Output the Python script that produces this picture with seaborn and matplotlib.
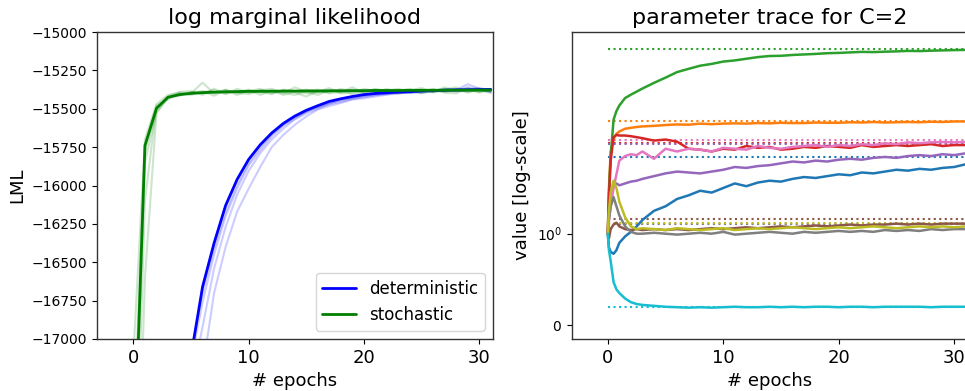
import numpy as np
import pandas as pd
import matplotlib
matplotlib.use("Agg")
import matplotlib.pyplot as plt
import matplotlib.ticker as mticker
import seaborn as sns

# =====================================================
# DATA - left panel (log marginal likelihood per epoch)
# =====================================================

epochs = list(range(32))

det_mean = [-21100, -19710, -18870, -18100, -17495, -17110, -16660, -16375,
            -16130, -15960, -15830, -15735, -15658, -15596, -15548, -15510,
            -15480, -15452, -15435, -15420, -15408, -15400, -15395, -15391,
            -15388, -15384, -15381, -15379, -15377, -15376, -15375, -15374]

det_run_a = [-21600, -20100, -19100, -18330, -17650, -17140, -16760, -16450,
             -16200, -16020, -15870, -15770, -15680, -15612, -15565, -15520,
             -15490, -15468, -15440, -15432, -15415, -15410, -15398, -15400,
             -15390, -15392, -15380, -15385, -15372, -15380, -15376, -15385]
det_run_b = [-22000, -20500, -19400, -18550, -17850, -17290, -16920, -16540,
             -16270, -16060, -15905, -15790, -15700, -15630, -15570, -15530,
             -15500, -15470, -15455, -15436, -15425, -15412, -15405, -15395,
             -15398, -15385, -15390, -15378, -15382, -15360, -15372, -15395]
det_run_c = [-23000, -21300, -20000, -19000, -18200, -17550, -17200, -16700,
             -16400, -16170, -16020, -15880, -15750, -15671, -15605, -15550,
             -15505, -15482, -15462, -15440, -15432, -15420, -15408, -15400,
             -15392, -15395, -15385, -15380, -15388, -15378, -15365, -15380]
det_run_d = [-21400, -19900, -19000, -18200, -17570, -17080, -16700, -16410,
             -16175, -15995, -15855, -15752, -15668, -15605, -15555, -15518,
             -15488, -15462, -15445, -15425, -15418, -15402, -15404, -15390,
             -15395, -15380, -15388, -15372, -15378, -15340, -15368, -15388]

sto_mean = [-17950, -15740, -15497, -15425, -15408, -15400, -15395, -15392,
            -15390, -15388, -15387, -15386, -15386, -15385, -15385, -15384,
            -15384, -15383, -15383, -15382, -15382, -15381, -15381, -15381,
            -15380, -15380, -15380, -15379, -15379, -15379, -15378, -15378]

sto_run_1 = [-17100, -15700, -15470, -15410, -15395, -15400, -15330, -15400,
             -15380, -15410, -15385, -15370, -15400, -15380, -15395, -15420,
             -15385, -15395, -15370, -15390, -15385, -15375, -15395, -15380,
             -15370, -15400, -15385, -15375, -15360, -15390, -15380, -15395]
sto_run_2 = [-17600, -15780, -15500, -15420, -15390, -15385, -15410, -15370,
             -15400, -15390, -15375, -15410, -15385, -15400, -15360, -15390,
             -15410, -15380, -15395, -15375, -15400, -15390, -15370, -15395,
             -15385, -15375, -15395, -15360, -15385, -15375, -15390, -15370]
sto_run_3 = [-18000, -15850, -15520, -15430, -15405, -15395, -15385, -15415,
             -15380, -15395, -15405, -15380, -15370, -15395, -15410, -15385,
             -15375, -15400, -15390, -15360, -15395, -15405, -15380, -15370,
             -15395, -15385, -15370, -15395, -15400, -15365, -15385, -15380]
sto_run_4 = [-18500, -16100, -15480, -15440, -15400, -15410, -15390, -15380,
             -15405, -15370, -15395, -15390, -15405, -15375, -15385, -15400,
             -15390, -15365, -15400, -15395, -15370, -15385, -15400, -15390,
             -15380, -15365, -15390, -15385, -15375, -15395, -15370, -15385]
sto_run_5 = [-19000, -16600, -15530, -15425, -15415, -15390, -15400, -15395,
             -15375, -15400, -15380, -15395, -15380, -15410, -15390, -15375,
             -15395, -15385, -15380, -15405, -15390, -15370, -15385, -15400,
             -15390, -15395, -15375, -15390, -15380, -15370, -15395, -15375]

# =====================================================
# DATA - right panel (parameter traces, C=2)
# =====================================================

trace_epochs = [0, 0.1, 0.25, 0.5, 0.75, 1, 1.5, 2, 2.5, 3] + list(range(4, 32))

param_names = ["p0", "p1", "p2", "p3", "p4", "p5", "p6", "p7", "p8", "p9"]

trace_p0 = [1.0, 0.85, 0.8, 0.78, 0.82, 0.9, 0.97, 1.02, 1.08, 1.15,
            1.25, 1.3, 1.38, 1.42, 1.47, 1.45, 1.5, 1.55, 1.52, 1.56,
            1.58, 1.57, 1.6, 1.62, 1.61, 1.63, 1.65, 1.64, 1.67, 1.66,
            1.68, 1.7, 1.69, 1.71, 1.7, 1.72, 1.73, 1.76]
trace_p1 = [1.0, 1.5, 1.9, 2.1, 2.25, 2.33, 2.42, 2.45, 2.48, 2.5,
            2.52, 2.55, 2.57, 2.56, 2.6, 2.58, 2.6, 2.61, 2.6, 2.62,
            2.61, 2.63, 2.62, 2.62, 2.64, 2.63, 2.63, 2.65, 2.64, 2.66,
            2.64, 2.65, 2.66, 2.65, 2.67, 2.66, 2.68, 2.68]
trace_p2 = [1.0, 1.45, 1.85, 2.75, 3.1, 3.35, 3.72, 3.9, 4.07, 4.25,
            4.6, 4.95, 5.35, 5.6, 5.85, 6.0, 6.2, 6.3, 6.45, 6.6,
            6.7, 6.72, 6.8, 6.85, 6.9, 6.97, 7.0, 7.05, 7.1, 7.08,
            7.12, 7.15, 7.2, 7.18, 7.22, 7.25, 7.28, 7.3]
trace_p3 = [1.0, 1.4, 1.8, 2.15, 2.22, 2.2, 2.2, 2.18, 2.15, 2.12,
            2.05, 2.08, 2.02, 1.93, 1.92, 1.9, 1.93, 1.92, 1.96, 1.94,
            1.95, 1.92, 1.93, 1.95, 1.94, 1.96, 1.95, 1.94, 1.97, 1.95,
            1.96, 1.97, 1.96, 1.97, 1.98, 1.96, 1.97, 1.97]
trace_p4 = [1.0, 1.2, 1.4, 1.52, 1.55, 1.53, 1.55, 1.57, 1.58, 1.6,
            1.63, 1.66, 1.68, 1.67, 1.66, 1.68, 1.7, 1.73, 1.72, 1.74,
            1.75, 1.77, 1.79, 1.78, 1.8, 1.79, 1.81, 1.82, 1.81, 1.83,
            1.84, 1.83, 1.85, 1.86, 1.85, 1.87, 1.86, 1.88]
trace_p5 = [1.0, 0.95, 1.05, 1.1, 1.12, 1.08, 1.05, 1.04, 1.05, 1.04,
            1.05, 1.04, 1.05, 1.04, 1.05, 1.06, 1.05, 1.06, 1.07, 1.06,
            1.07, 1.08, 1.07, 1.08, 1.09, 1.08, 1.09, 1.1, 1.09, 1.1,
            1.1, 1.11, 1.1, 1.11, 1.1, 1.11, 1.11, 1.11]
trace_p6 = [1.0, 1.15, 1.3, 1.5, 1.65, 1.8, 1.85, 1.87, 1.86, 1.9,
            1.82, 1.93, 1.9, 1.93, 1.92, 1.9, 1.94, 1.93, 1.92, 1.96,
            1.94, 1.93, 1.95, 1.96, 1.97, 1.95, 1.97, 1.96, 1.98, 1.97,
            1.99, 1.98, 2.0, 1.99, 2.0, 2.01, 2.0, 2.01]
trace_p7 = [1.0, 1.15, 1.3, 1.4, 1.3, 1.2, 1.08, 1.02, 1.0, 1.0,
            1.01, 1.0, 0.99, 1.0, 1.01, 1.0, 1.02, 0.99, 1.0, 1.01,
            1.02, 1.01, 1.0, 1.02, 1.01, 1.02, 1.03, 1.02, 1.03, 1.02,
            1.04, 1.03, 1.04, 1.03, 1.05, 1.04, 1.05, 1.05]
trace_p8 = [1.0, 1.25, 1.45, 1.58, 1.5, 1.35, 1.18, 1.08, 1.05, 1.06,
            1.05, 1.04, 1.06, 1.05, 1.04, 1.05, 1.06, 1.04, 1.05, 1.06,
            1.05, 1.06, 1.07, 1.06, 1.05, 1.06, 1.07, 1.06, 1.07, 1.08,
            1.07, 1.06, 1.07, 1.08, 1.07, 1.08, 1.07, 1.08]
trace_p9 = [1.0, 0.82, 0.7, 0.47, 0.39, 0.35, 0.29, 0.25, 0.23, 0.22,
            0.21, 0.2, 0.195, 0.19, 0.195, 0.19, 0.195, 0.2, 0.195, 0.195,
            0.2, 0.195, 0.2, 0.195, 0.2, 0.2, 0.195, 0.2, 0.2, 0.195,
            0.2, 0.2, 0.2, 0.2, 0.195, 0.2, 0.2, 0.2]

true_values = [1.843, 2.70, 7.37, 1.99, 1.985, 1.157, 2.07, 1.11, 1.114, 0.2]

# =====================================================
# LONG FORMAT TABLES
# =====================================================

rows = []
for method, runs in [("deterministic", [det_run_a, det_run_b, det_run_c, det_run_d]),
                     ("stochastic", [sto_run_1, sto_run_2, sto_run_3, sto_run_4, sto_run_5])]:
    for k, run in enumerate(runs):
        for e, v in zip(epochs, run):
            rows.append((method, k, e, v))
runs_df = pd.DataFrame(rows, columns=["method", "run", "epoch", "LML"])

mean_df = pd.DataFrame({
    "method": ["deterministic"] * len(epochs) + ["stochastic"] * len(epochs),
    "epoch": epochs + epochs,
    "LML": det_mean + sto_mean,
})

traces = [trace_p0, trace_p1, trace_p2, trace_p3, trace_p4,
          trace_p5, trace_p6, trace_p7, trace_p8, trace_p9]
trace_rows = []
for name, tr in zip(param_names, traces):
    for e, v in zip(trace_epochs, tr):
        trace_rows.append((name, e, v))
trace_df = pd.DataFrame(trace_rows, columns=["param", "epoch", "value"])

# =====================================================
# STYLE
# =====================================================

sns.set_theme(style="ticks", rc={
    "axes.edgecolor": "0.2",
    "axes.linewidth": 1.0,
    "xtick.major.size": 3.5,
    "ytick.major.size": 3.5,
    "xtick.major.width": 0.8,
    "ytick.major.width": 0.8,
    "xtick.labelsize": 13,
    "ytick.labelsize": 10,
    "axes.labelsize": 13,
    "axes.titlesize": 16,
    "text.color": "black",
    "axes.labelcolor": "black",
    "xtick.color": "black",
    "ytick.color": "black",
})
plt.rcParams["font.family"] = ["DejaVu Sans"]

fig = plt.figure(figsize=(9.65, 3.91), dpi=100)
ax1 = fig.add_axes([97 / 965, 52 / 391, 396 / 965, 307 / 391])
ax2 = fig.add_axes([572 / 965, 52 / 391, 396 / 965, 307 / 391])

pal = {"deterministic": "blue", "stochastic": "green"}

# =====================================================
# LEFT: LOG MARGINAL LIKELIHOOD
# =====================================================

sns.lineplot(data=runs_df, x="epoch", y="LML", hue="method", units="run",
             estimator=None, palette=pal, lw=1.5, alpha=0.2, legend=False, ax=ax1)
sns.lineplot(data=mean_df, x="epoch", y="LML", hue="method", estimator=None,
             errorbar=None, palette=pal, lw=2, ax=ax1)

ax1.set_xlim(-3.16, 31.2)
ax1.set_ylim(-17000, -15000)
ax1.set_yticks([-17000, -16750, -16500, -16250, -16000, -15750, -15500, -15250, -15000])
ax1.set_xticks([0, 10, 20, 30])
ax1.set_title("log marginal likelihood")
ax1.set_xlabel("# epochs")
ax1.set_ylabel("LML")
sns.move_legend(ax1, "lower right", title=None, fontsize=12, frameon=True)

# =====================================================
# RIGHT: PARAMETER TRACE
# =====================================================

ax2.set_yscale("symlog", linthresh=2)
tab10 = sns.color_palette("tab10", len(param_names))
ax2.hlines(true_values, 0, 31.6, colors=tab10, linestyles=":", lw=1.5)
sns.lineplot(data=trace_df, x="epoch", y="value", hue="param", hue_order=param_names,
             palette=tab10, estimator=None, lw=1.8, legend=False, ax=ax2)

ax2.set_xlim(-3.1, 31.2)
ax2.set_ylim(-0.153, 9.38)
ax2.yaxis.set_minor_locator(mticker.NullLocator())
ax2.set_xticks([0, 10, 20, 30])
ax2.set_title("parameter trace for C=2")
ax2.set_xlabel("# epochs")
ax2.set_ylabel("value [log-scale]")

fig.savefig("out.png", dpi=100, facecolor="white")
